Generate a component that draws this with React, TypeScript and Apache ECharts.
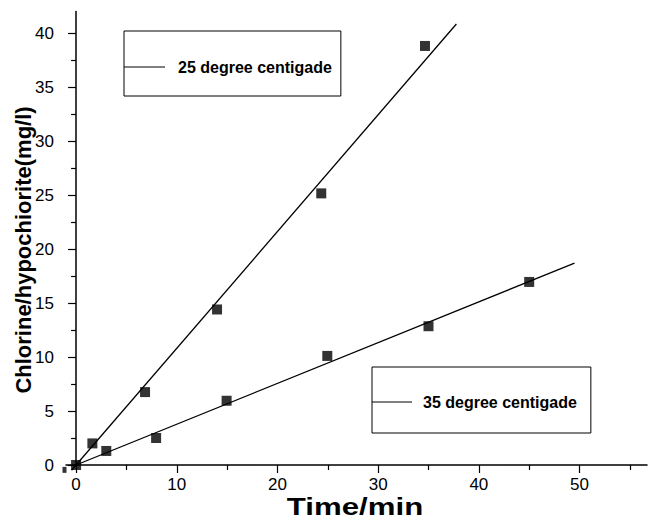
import React, { useEffect, useRef } from "react";
import * as echarts from "echarts";

// Measured chlorine/hypochlorite concentration (mg/l) against time (min)
const points25: [number, number][] = [
  [0, 0],
  [1.62, 2.0],
  [6.85, 6.75],
  [14.0, 14.4],
  [24.35, 25.15],
  [34.65, 38.8],
];
const points35: [number, number][] = [
  [3.0, 1.3],
  [7.95, 2.5],
  [14.95, 5.95],
  [24.95, 10.1],
  [35.0, 12.85],
  [45.0, 16.95],
];
// Stray marker sitting just left of the origin
const strayPoint: [number, number][] = [[-1.15, -0.45]];

// Linear fit lines (end points)
const fit25: [number, number][] = [
  [-0.45, -0.49],
  [37.77, 40.83],
];
const fit35: [number, number][] = [
  [0, 0],
  [49.5, 18.7],
];

const xMajorTicks = [0, 10, 20, 30, 40, 50];
const xMinorTicks = [5, 15, 25, 35, 45, 55];
const yMajorTicks = [0, 5, 10, 15, 20, 25, 30, 35, 40];
const yMinorTicks = [2.5, 7.5, 12.5, 17.5, 22.5, 27.5, 32.5, 37.5];
const legendNames = ["25 degree centigade", "35 degree centigade"];
const xTitle = "Time/min";
const yTitle = "Chlorine/hypochiorite(mg/l)";

const FONT = "'Liberation Sans', Arial, Helvetica, sans-serif";

export default function App() {
  const ref = useRef<HTMLDivElement>(null);

  useEffect(() => {
    if (!ref.current) return;
    const chart = echarts.init(ref.current, null, { renderer: "svg" });

    const axisLine = { show: true, onZero: true, lineStyle: { color: "#000", width: 1.5 } };
    const tickLine = { color: "#000", width: 1.2 };
    const labelStyle = { color: "#000", fontSize: 17, fontFamily: FONT };
    const xRange = { min: -1, max: 56.7 };
    const yRange = { min: 0, max: 42 };

    const legendBase = {
      orient: "horizontal" as const,
      selectedMode: false,
      borderColor: "#000",
      borderWidth: 1,
      icon: "rect",
      itemWidth: 41,
      itemHeight: 1,
      textStyle: {
        color: "#000",
        fontSize: 16,
        fontWeight: "bold" as const,
        fontFamily: FONT,
      },
    };

    chart.setOption({
      animation: false,
      backgroundColor: "#fff",
      grid: { left: 66, right: 3, top: 11.4, bottom: 55, containLabel: false },
      xAxis: [
        {
          type: "value",
          ...xRange,
          axisLine,
          splitLine: { show: false },
          axisTick: { show: true, length: 8, customValues: xMajorTicks, lineStyle: tickLine },
          axisLabel: { ...labelStyle, margin: 11, customValues: xMajorTicks },
        },
        {
          type: "value",
          position: "bottom",
          ...xRange,
          axisLine: { show: false, onZero: true },
          splitLine: { show: false },
          axisTick: { show: true, length: 5, customValues: xMinorTicks, lineStyle: tickLine },
          axisLabel: { show: false },
        },
      ],
      yAxis: [
        {
          type: "value",
          ...yRange,
          axisLine,
          splitLine: { show: false },
          axisTick: { show: true, length: 8, customValues: yMajorTicks, lineStyle: tickLine },
          axisLabel: { ...labelStyle, margin: 12, customValues: yMajorTicks },
        },
        {
          type: "value",
          position: "left",
          ...yRange,
          axisLine: { show: false, onZero: true },
          splitLine: { show: false },
          axisTick: { show: true, length: 5, customValues: yMinorTicks, lineStyle: tickLine },
          axisLabel: { show: false },
        },
      ],
      legend: [
        {
          ...legendBase,
          data: [legendNames[0]],
          left: 124,
          top: 31,
          padding: [28, 9, 21, 0],
          textStyle: { ...legendBase.textStyle, padding: [0, 0, 0, 8] },
        },
        {
          ...legendBase,
          data: [legendNames[1]],
          left: 372,
          top: 367,
          padding: [27, 14, 23, 0],
          itemWidth: 40,
          textStyle: { ...legendBase.textStyle, padding: [0, 0, 0, 6] },
        },
      ],
      graphic: [
        {
          type: "text",
          x: 355,
          y: 507,
          scaleX: 1.3,
          style: {
            text: xTitle,
            fill: "#000",
            font: `bold 24px ${FONT}`,
            textAlign: "center",
            textVerticalAlign: "middle",
          },
        },
        {
          type: "text",
          x: 23,
          y: 250,
          rotation: Math.PI / 2,
          style: {
            text: yTitle,
            fill: "#000",
            font: `bold 22px ${FONT}`,
            textAlign: "center",
            textVerticalAlign: "middle",
          },
        },
      ],
      series: [
        {
          name: legendNames[0],
          type: "line",
          data: fit25,
          showSymbol: false,
          clip: false,
          color: "#000",
          lineStyle: { color: "#000", width: 1.3 },
        },
        {
          name: legendNames[1],
          type: "line",
          data: fit35,
          showSymbol: false,
          clip: false,
          color: "#000",
          lineStyle: { color: "#000", width: 1.3 },
        },
        {
          name: "25 data",
          type: "scatter",
          data: points25,
          symbol: "rect",
          symbolSize: 10,
          clip: false,
          itemStyle: { color: "#000" },
        },
        {
          name: "35 data",
          type: "scatter",
          data: points35,
          symbol: "rect",
          symbolSize: 10,
          clip: false,
          itemStyle: { color: "#000" },
        },
        {
          name: "stray",
          type: "scatter",
          data: strayPoint,
          symbol: "rect",
          symbolSize: [4, 6],
          clip: false,
          itemStyle: { color: "#000" },
        },
      ],
    });

    return () => chart.dispose();
  }, []);

  return (
    <div
      ref={ref}
      style={{ position: "absolute", left: 0, top: 0, width: 650, height: 520 }}
    />
  );
}
